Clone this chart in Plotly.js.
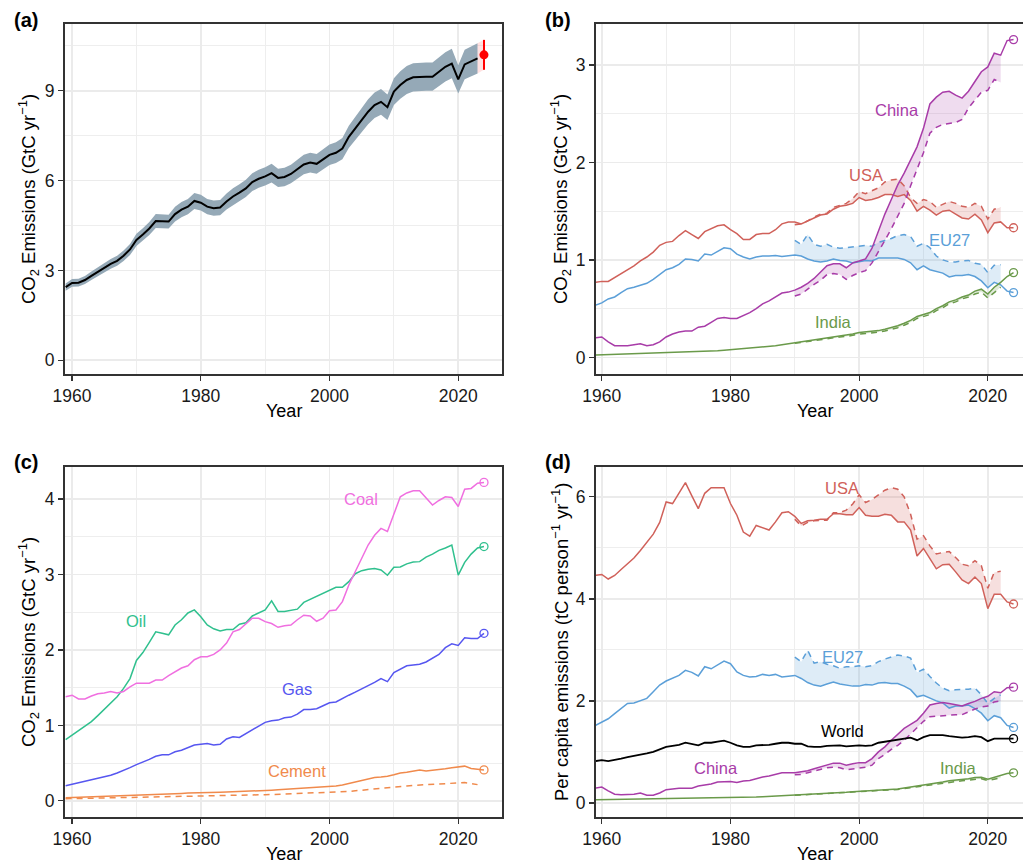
<!DOCTYPE html>
<html><head><meta charset="utf-8">
<script src="https://cdn.plot.ly/plotly-3.0.1.min.js"></script>
<style>html,body{margin:0;padding:0;background:#fff;} #chart{width:1023px;height:864px;}</style>
</head><body><div id="chart"></div>
<script>
// ---------------- DATA ----------------
const years = [1959,1960,1961,1962,1963,1964,1965,1966,1967,1968,
 1969,1970,1971,1972,1973,1974,1975,1976,1977,1978,
 1979,1980,1981,1982,1983,1984,1985,1986,1987,1988,
 1989,1990,1991,1992,1993,1994,1995,1996,1997,1998,
 1999,2000,2001,2002,2003,2004,2005,2006,2007,2008,
 2009,2010,2011,2012,2013,2014,2015,2016,2017,2018,
 2019,2020,2021,2022,2023];
const consYears = [1990,1991,1992,1993,1994,1995,1996,1997,1998,1999,
 2000,2001,2002,2003,2004,2005,2006,2007,2008,2009,
 2010,2011,2012,2013,2014,2015,2016,2017,2018,2019,
 2020,2021,2022];
const projYear = 2024;

// (a) global fossil CO2 emissions, GtC/yr
const worldTotal = [2.44,2.58,2.59,2.68,2.82,2.96,3.08,3.22,3.32,3.49,
 3.70,4.02,4.20,4.40,4.65,4.63,4.63,4.88,5.03,5.13,
 5.32,5.26,5.13,5.08,5.10,5.30,5.47,5.60,5.74,5.95,
 6.06,6.14,6.25,6.09,6.12,6.22,6.38,6.54,6.60,6.56,
 6.71,6.86,6.93,7.07,7.46,7.74,8.02,8.30,8.52,8.63,
 8.45,8.97,9.19,9.36,9.45,9.47,9.47,9.47,9.63,9.80,
 9.91,9.38,9.88,9.97,10.08];
const worldUncertainty = 0.05;          // +/- relative (1 sigma)
const worldProj = 10.2, worldProjLow = 9.7, worldProjHigh = 10.7;

// (b) territorial emissions by country (GtC/yr)
const usaTerr = [0.77,0.78,0.78,0.82,0.86,0.90,0.94,0.99,1.03,1.08,
 1.15,1.18,1.19,1.25,1.30,1.26,1.22,1.29,1.32,1.35,
 1.36,1.31,1.27,1.21,1.21,1.26,1.27,1.27,1.31,1.37,
 1.39,1.39,1.37,1.40,1.43,1.46,1.47,1.52,1.55,1.56,
 1.58,1.64,1.61,1.62,1.64,1.67,1.67,1.65,1.67,1.61,
 1.50,1.55,1.51,1.46,1.50,1.51,1.47,1.43,1.42,1.47,
 1.41,1.28,1.38,1.39,1.33];
const chinaTerr = [0.20,0.21,0.16,0.12,0.12,0.12,0.13,0.14,0.12,0.13,
 0.16,0.21,0.24,0.26,0.27,0.27,0.31,0.32,0.36,0.40,
 0.41,0.40,0.40,0.43,0.46,0.50,0.55,0.58,0.62,0.66,
 0.67,0.69,0.72,0.76,0.81,0.87,0.94,0.96,0.96,0.92,
 0.97,0.99,1.01,1.12,1.30,1.47,1.62,1.77,1.89,2.02,
 2.16,2.35,2.60,2.67,2.72,2.73,2.69,2.66,2.73,2.83,
 2.93,2.98,3.12,3.10,3.25];
const eu27Terr = [0.535,0.56,0.60,0.62,0.665,0.705,0.72,0.74,0.76,0.80,
 0.85,0.90,0.92,0.955,1.01,1.005,0.99,1.06,1.05,1.09,
 1.125,1.115,1.06,1.03,1.01,1.03,1.04,1.04,1.045,1.035,
 1.04,1.05,1.04,1.01,0.99,0.98,0.99,1.01,0.995,0.99,
 0.97,0.98,0.995,0.99,1.02,1.02,1.02,1.02,1.005,0.97,
 0.90,0.94,0.90,0.885,0.865,0.825,0.84,0.84,0.85,0.83,
 0.785,0.715,0.77,0.745,0.68];
const indiaTerr = [0.025,0.027,0.029,0.031,0.033,0.034,0.036,0.038,0.039,0.041,
 0.043,0.045,0.047,0.049,0.051,0.054,0.058,0.062,0.066,0.068,
 0.073,0.078,0.083,0.088,0.093,0.098,0.105,0.112,0.120,0.130,
 0.140,0.150,0.160,0.170,0.175,0.185,0.195,0.210,0.220,0.225,
 0.240,0.255,0.260,0.265,0.275,0.290,0.305,0.325,0.350,0.380,
 0.420,0.440,0.460,0.500,0.530,0.570,0.590,0.620,0.640,0.680,
 0.700,0.650,0.720,0.770,0.830];
// (b) consumption-based emissions 1990-2022
const usaCons = [1.36,1.37,1.40,1.44,1.47,1.48,1.54,1.56,1.58,1.63,
 1.70,1.68,1.71,1.74,1.80,1.82,1.83,1.76,1.64,1.58,
 1.62,1.60,1.54,1.57,1.60,1.58,1.55,1.54,1.58,1.55,
 1.42,1.52,1.54];
const chinaCons = [0.63,0.65,0.70,0.75,0.79,0.85,0.86,0.85,0.80,0.84,
 0.87,0.89,0.97,1.08,1.20,1.32,1.45,1.58,1.76,1.93,
 2.10,2.30,2.36,2.39,2.40,2.41,2.44,2.56,2.64,2.72,
 2.74,2.85,2.82];
const eu27Cons = [1.20,1.16,1.26,1.16,1.14,1.16,1.13,1.12,1.125,1.135,
 1.14,1.15,1.14,1.18,1.20,1.22,1.25,1.26,1.24,1.14,
 1.17,1.125,1.04,1.00,0.98,0.98,0.99,0.995,0.965,0.955,
 0.87,0.945,0.95];
const indiaCons = [0.145,0.155,0.165,0.168,0.178,0.188,0.20,0.21,0.215,0.228,
 0.24,0.245,0.25,0.26,0.272,0.285,0.305,0.33,0.36,0.40,
 0.42,0.44,0.48,0.51,0.55,0.57,0.60,0.62,0.65,0.67,
 0.61,0.67,0.72];
const countryProj = {USA: 1.33, China: 3.26, EU27: 0.665, India: 0.87};

// (c) emissions by fuel (GtC/yr)
const coal = [1.38,1.40,1.35,1.35,1.39,1.42,1.43,1.45,1.43,1.45,
 1.51,1.56,1.56,1.56,1.60,1.60,1.66,1.71,1.76,1.79,
 1.87,1.91,1.91,1.94,2.00,2.09,2.24,2.27,2.34,2.42,
 2.42,2.375,2.35,2.30,2.32,2.33,2.40,2.46,2.45,2.38,
 2.42,2.52,2.53,2.64,2.86,3.04,3.21,3.39,3.52,3.61,
 3.57,3.79,4.03,4.08,4.11,4.11,4.01,3.92,3.98,4.03,
 4.02,3.90,4.13,4.14,4.21];
const oil = [0.81,0.87,0.92,0.985,1.05,1.13,1.21,1.29,1.38,1.49,
 1.62,1.86,1.965,2.10,2.24,2.22,2.20,2.33,2.40,2.49,
 2.53,2.44,2.33,2.28,2.25,2.27,2.27,2.34,2.36,2.45,
 2.49,2.53,2.65,2.51,2.51,2.52,2.54,2.63,2.67,2.71,
 2.76,2.795,2.83,2.83,2.905,3.01,3.05,3.07,3.08,3.06,
 2.99,3.095,3.10,3.14,3.165,3.17,3.23,3.27,3.32,3.35,
 3.39,2.99,3.16,3.27,3.35];
const gas = [0.20,0.22,0.23,0.25,0.27,0.29,0.32,0.34,0.37,0.40,
 0.44,0.48,0.51,0.55,0.59,0.61,0.61,0.65,0.67,0.70,
 0.74,0.75,0.76,0.74,0.75,0.82,0.85,0.84,0.89,0.94,
 0.99,1.04,1.06,1.07,1.10,1.11,1.15,1.21,1.21,1.22,
 1.26,1.30,1.31,1.36,1.40,1.44,1.48,1.52,1.57,1.62,
 1.58,1.70,1.75,1.79,1.80,1.81,1.84,1.89,1.94,2.03,
 2.08,2.06,2.16,2.15,2.15];
const cement = [0.042,0.045,0.046,0.048,0.051,0.055,0.057,0.060,0.062,0.066,
 0.070,0.074,0.078,0.083,0.088,0.088,0.090,0.094,0.099,0.104,
 0.108,0.110,0.110,0.111,0.115,0.118,0.120,0.123,0.128,0.133,
 0.136,0.138,0.141,0.146,0.152,0.160,0.166,0.170,0.174,0.175,
 0.180,0.188,0.197,0.210,0.232,0.250,0.270,0.295,0.310,0.315,
 0.325,0.345,0.370,0.380,0.400,0.410,0.395,0.405,0.410,0.425,
 0.440,0.445,0.460,0.430,0.420];
const cementCarbonation = [0.028,0.030,0.031,0.033,0.035,0.037,0.039,0.041,0.043,0.045,
 0.047,0.050,0.052,0.055,0.058,0.060,0.061,0.063,0.065,0.067,
 0.068,0.069,0.070,0.070,0.071,0.072,0.073,0.074,0.076,0.078,
 0.080,0.082,0.083,0.086,0.089,0.092,0.095,0.098,0.100,0.102,
 0.105,0.108,0.112,0.118,0.125,0.133,0.142,0.152,0.160,0.166,
 0.172,0.180,0.190,0.197,0.205,0.210,0.210,0.215,0.220,0.228,
 0.236,0.240,0.242,0.230,0.215];
const fuelProj = {Coal: 4.22, Oil: 3.37, Gas: 2.22, Cement: 0.41};

// (d) per capita emissions (tC/person/yr)
const usaPc = [4.46,4.48,4.39,4.46,4.575,4.69,4.80,4.95,5.10,5.27,
 5.50,5.90,5.87,6.08,6.28,6.02,5.77,6.07,6.18,6.18,
 6.18,5.87,5.64,5.31,5.23,5.44,5.40,5.35,5.51,5.69,
 5.71,5.62,5.48,5.53,5.54,5.56,5.56,5.67,5.67,5.65,
 5.65,5.79,5.64,5.62,5.62,5.66,5.64,5.51,5.51,5.35,
 4.84,4.99,4.79,4.59,4.67,4.68,4.53,4.37,4.30,4.43,
 4.30,3.81,4.09,4.09,3.94];
const eu27Pc = [1.52,1.59,1.65,1.75,1.85,1.95,1.96,2.00,2.05,2.18,
 2.31,2.39,2.44,2.50,2.60,2.56,2.49,2.67,2.63,2.70,
 2.78,2.73,2.57,2.50,2.47,2.48,2.52,2.50,2.52,2.47,
 2.49,2.50,2.44,2.36,2.31,2.29,2.33,2.37,2.33,2.31,
 2.29,2.29,2.32,2.31,2.35,2.36,2.34,2.34,2.29,2.22,
 2.08,2.11,2.05,2.00,1.96,1.86,1.90,1.90,1.92,1.85,
 1.76,1.61,1.71,1.67,1.52];
const worldPc = [0.82,0.84,0.82,0.84,0.87,0.90,0.92,0.95,0.97,1.00,
 1.05,1.10,1.12,1.14,1.18,1.15,1.13,1.18,1.18,1.20,
 1.22,1.18,1.13,1.10,1.10,1.13,1.13,1.14,1.16,1.18,
 1.18,1.16,1.16,1.11,1.10,1.10,1.12,1.13,1.13,1.11,
 1.12,1.13,1.12,1.13,1.18,1.20,1.22,1.24,1.26,1.28,
 1.23,1.29,1.33,1.33,1.33,1.31,1.29,1.28,1.29,1.31,
 1.29,1.21,1.26,1.26,1.26];
const chinaPc = [0.29,0.31,0.235,0.17,0.16,0.16,0.17,0.195,0.15,0.15,
 0.195,0.26,0.28,0.29,0.29,0.29,0.33,0.35,0.37,0.41,
 0.42,0.42,0.40,0.43,0.44,0.48,0.51,0.53,0.56,0.59,
 0.59,0.59,0.61,0.63,0.67,0.71,0.75,0.78,0.78,0.74,
 0.77,0.79,0.79,0.87,1.00,1.10,1.23,1.35,1.46,1.54,
 1.62,1.76,1.92,1.95,1.97,1.95,1.92,1.90,1.95,1.99,
 2.05,2.09,2.18,2.16,2.26];
const indiaPc = [0.060,0.062,0.064,0.066,0.067,0.068,0.070,0.071,0.072,0.074,
 0.075,0.077,0.078,0.080,0.081,0.083,0.086,0.088,0.090,0.092,
 0.095,0.098,0.102,0.106,0.110,0.114,0.120,0.126,0.132,0.140,
 0.148,0.155,0.162,0.170,0.175,0.182,0.190,0.198,0.205,0.210,
 0.220,0.228,0.232,0.236,0.242,0.250,0.262,0.275,0.292,0.310,
 0.338,0.355,0.370,0.395,0.410,0.435,0.445,0.460,0.475,0.500,
 0.505,0.465,0.500,0.535,0.575];
const usaPcCons = [5.56,5.43,5.50,5.53,5.54,5.54,5.69,5.69,5.74,5.86,
 6.04,5.89,5.95,6.04,6.13,6.18,6.15,6.00,5.66,5.17,
 5.24,5.04,4.88,4.91,4.93,4.81,4.68,4.65,4.75,4.65,
 4.21,4.52,4.54];
const eu27PcCons = [2.86,2.77,2.99,2.74,2.77,2.72,2.69,2.64,2.67,2.67,
 2.69,2.67,2.69,2.77,2.82,2.86,2.90,2.88,2.84,2.56,
 2.62,2.48,2.35,2.25,2.20,2.22,2.22,2.23,2.25,2.12,
 1.95,2.05,2.12];
const chinaPcCons = [0.55,0.56,0.59,0.62,0.65,0.69,0.70,0.69,0.65,0.67,
 0.69,0.70,0.74,0.87,0.95,1.05,1.13,1.23,1.35,1.47,
 1.60,1.69,1.70,1.72,1.73,1.73,1.73,1.79,1.84,1.88,
 1.90,1.98,2.00];
const indiaPcCons = [0.150,0.157,0.163,0.167,0.174,0.182,0.190,0.196,0.200,0.210,
 0.218,0.222,0.226,0.232,0.240,0.252,0.265,0.280,0.298,0.318,
 0.335,0.350,0.372,0.385,0.410,0.420,0.435,0.448,0.465,0.475,
 0.440,0.458,0.490];
const pcProj = {USA: 3.90, EU27: 1.48, China: 2.27, World: 1.26, India: 0.59};

// ---------------- STYLE ----------------
const FONT = 'Liberation Sans, Arial, Helvetica, sans-serif';
const C = {
  usa: '#d0615a', china: '#a83ca8', eu: '#5b9fd8', india: '#6a9a4a', world: '#000000',
  coal: '#f06fe0', oil: '#30c08e', gas: '#5656f0', cement: '#f08a4c',
  band: '#95a9b7', red: '#ff0000'
};
const FILL = {
  usa: 'rgba(208,97,90,0.2)', china: 'rgba(168,60,168,0.18)',
  eu: 'rgba(91,159,216,0.2)', india: 'rgba(106,154,74,0.2)'
};
const DASH = '6px,5px';
const W = 1023, H = 864;
const px = v => v / W, py = v => 1 - v / H;

const traces = [];
function line(ax, x, y, color, width, dash) {
  traces.push({type: 'scatter', mode: 'lines', x: x, y: y, xaxis: 'x' + ax, yaxis: 'y' + ax,
    line: {color: color, width: width, dash: dash || 'solid'}, hoverinfo: 'skip', showlegend: false});
}
function ribbon(ax, x, lo, hi, fill) {
  traces.push({type: 'scatter', mode: 'lines', x: x.concat(x.slice().reverse()),
    y: hi.concat(lo.slice().reverse()), fill: 'toself', fillcolor: fill,
    line: {width: 0}, xaxis: 'x' + ax, yaxis: 'y' + ax, hoverinfo: 'skip', showlegend: false});
}
function circle(ax, y, color) {
  traces.push({type: 'scatter', mode: 'markers', x: [projYear], y: [y], xaxis: 'x' + ax, yaxis: 'y' + ax,
    marker: {symbol: 'circle-open', size: 8, color: color, line: {color: color, width: 1.3}},
    hoverinfo: 'skip', showlegend: false});
}
const i1990 = years.indexOf(1990), i2022 = years.indexOf(2022);
const terrSlice = s => s.slice(i1990, i2022 + 1);

// ---- (a)
ribbon('', years, worldTotal.map(v => v * (1 - worldUncertainty)), worldTotal.map(v => v * (1 + worldUncertainty)), C.band);
const last = worldTotal[worldTotal.length - 1];
ribbon('', [years[years.length - 1], projYear],
  [last * (1 - worldUncertainty), worldProjLow], [last * (1 + worldUncertainty), worldProjHigh], 'rgba(255,90,90,0.18)');
line('', years, worldTotal, '#000', 2);
traces.push({type: 'scatter', mode: 'markers', x: [projYear], y: [worldProj], xaxis: 'x', yaxis: 'y',
  marker: {color: C.red, size: 9},
  error_y: {type: 'data', symmetric: false, array: [worldProjHigh - worldProj], arrayminus: [worldProj - worldProjLow],
    color: C.red, thickness: 2, width: 0}, hoverinfo: 'skip', showlegend: false});

// ---- (b) country totals
const bSeries = [
  ['USA', usaTerr, usaCons, C.usa, FILL.usa],
  ['EU27', eu27Terr, eu27Cons, C.eu, FILL.eu],
  ['India', indiaTerr, indiaCons, C.india, FILL.india],
  ['China', chinaTerr, chinaCons, C.china, FILL.china]
];
bSeries.forEach(s => ribbon('2', consYears, terrSlice(s[1]), s[2], s[4]));
bSeries.forEach(s => {
  line('2', consYears, s[2], s[3], 1.5, DASH);
  line('2', years.concat([projYear]), s[1].concat([countryProj[s[0]]]), s[3], 1.5);
  circle('2', countryProj[s[0]], s[3]);
});

// ---- (c) fuels
line('3', years, cementCarbonation, C.cement, 1.5, DASH);
[['Cement', cement, C.cement], ['Gas', gas, C.gas], ['Oil', oil, C.oil], ['Coal', coal, C.coal]].forEach(s => {
  line('3', years.concat([projYear]), s[1].concat([fuelProj[s[0]]]), s[2], 1.5);
  circle('3', fuelProj[s[0]], s[2]);
});

// ---- (d) per capita
const dSeries = [
  ['USA', usaPc, usaPcCons, C.usa, FILL.usa],
  ['EU27', eu27Pc, eu27PcCons, C.eu, FILL.eu],
  ['India', indiaPc, indiaPcCons, C.india, FILL.india],
  ['China', chinaPc, chinaPcCons, C.china, FILL.china]
];
dSeries.forEach(s => ribbon('4', consYears, terrSlice(s[1]), s[2], s[4]));
dSeries.forEach(s => {
  line('4', consYears, s[2], s[3], 1.5, DASH);
  line('4', years.concat([projYear]), s[1].concat([pcProj[s[0]]]), s[3], 1.5);
  circle('4', pcProj[s[0]], s[3]);
});
line('4', years.concat([projYear]), worldPc.concat([pcProj.World]), '#000', 1.8);
circle('4', pcProj.World, '#000');

// ---------------- LAYOUT ----------------
const tickFont = {family: FONT, size: 17.5, color: '#1a1a1a'};
function axis(domain, range, dtick, minorDtick, mirror) {
  return {domain: domain, range: range, dtick: dtick, tick0: 0, showline: true, mirror: mirror,
    linecolor: '#333', linewidth: 2, ticks: 'outside', ticklen: 5, tickcolor: '#333', tickwidth: 1.2,
    showgrid: true, gridcolor: '#ebebeb', gridwidth: 1.8, zeroline: false, tickfont: tickFont,
    fixedrange: true,
    minor: {dtick: minorDtick, showgrid: true, gridcolor: '#eeeeee', gridwidth: 1, ticks: ''}};
}
const xLeft = [px(65), px(502)], xRight = [px(596), 1];
const yTop = [py(374), py(24)], yBot = [py(816.7), py(467.3)];
const xRangeL = [1958.9, 2026.8], xRangeR = [1959.1, 2025.47];

const layout = {
  width: W, height: H, margin: {l: 0, r: 0, t: 0, b: 0}, paper_bgcolor: '#fff', plot_bgcolor: '#fff',
  font: {family: FONT, color: '#1a1a1a'}, showlegend: false,
  xaxis: Object.assign(axis(xLeft, xRangeL, 20, 10, true), {tick0: 1960, anchor: 'y'}),
  yaxis: Object.assign(axis(yTop, [-0.46, 11.23], 3, 1.5, true), {anchor: 'x'}),
  xaxis2: Object.assign(axis(xRight, xRangeR, 20, 10, true), {tick0: 1960, anchor: 'y2'}),
  yaxis2: Object.assign(axis(yTop, [-0.17, 3.42], 1, 0.5, false), {anchor: 'x2'}),
  xaxis3: Object.assign(axis(xLeft, xRangeL, 20, 10, true), {tick0: 1960, anchor: 'y3'}),
  yaxis3: Object.assign(axis(yBot, [-0.21, 4.42], 1, 0.5, true), {anchor: 'x3'}),
  xaxis4: Object.assign(axis(xRight, xRangeR, 20, 10, true), {tick0: 1960, anchor: 'y4'}),
  yaxis4: Object.assign(axis(yBot, [-0.27, 6.58], 2, 1, false), {anchor: 'x4'}),
  annotations: []
};
const ann = layout.annotations;
// panel letters
[['(a)', 12, 20], ['(b)', 543, 20], ['(c)', 12, 462], ['(d)', 543, 462]].forEach(p => ann.push({
  text: '<b>' + p[0] + '</b>', xref: 'paper', yref: 'paper', x: px(p[1]), y: py(p[2]),
  xanchor: 'left', yanchor: 'middle', showarrow: false, font: {family: FONT, size: 20, color: '#000'}}));
// axis titles
const co2Title = 'CO<sub>2</sub> Emissions (GtC yr<sup>−1</sup>)';
const pcTitle = 'Per capita emissions (tC person<sup>−1</sup> yr<sup>−1</sup>)';
[[co2Title, 28, 199], [co2Title, 560, 199], [co2Title, 28, 642], [pcTitle, 560, 642]].forEach(t => ann.push({
  text: t[0], xref: 'paper', yref: 'paper', x: px(t[1]), y: py(t[2]), textangle: -90,
  xanchor: 'center', yanchor: 'middle', showarrow: false, font: {family: FONT, size: 18.5, color: '#000'}}));
[[283.5, 411], [815, 411], [283.5, 854], [815, 854]].forEach(t => ann.push({
  text: 'Year', xref: 'paper', yref: 'paper', x: px(t[0]), y: py(t[1]),
  xanchor: 'center', yanchor: 'middle', showarrow: false, font: {family: FONT, size: 18, color: '#000'}}));
// series labels
function label(ax, text, x, y, color) {
  ann.push({text: text, xref: 'x' + ax, yref: 'y' + ax, x: x, y: y, xanchor: 'center', yanchor: 'middle',
    showarrow: false, font: {family: FONT, size: 16.5, color: color}});
}
label('2', 'China', 2005.9, 2.54, C.china);
label('2', 'USA', 2001.0, 1.87, C.usa);
label('2', 'EU27', 2014.0, 1.20, C.eu);
label('2', 'India', 1996.0, 0.36, C.india);
label('3', 'Coal', 2004.9, 4.0, C.coal);
label('3', 'Oil', 1969.9, 2.38, C.oil);
label('3', 'Gas', 1994.9, 1.48, C.gas);
label('3', 'Cement', 1994.9, 0.39, C.cement);
label('4', 'USA', 1997.4, 6.18, C.usa);
label('4', 'EU27', 1997.4, 2.86, C.eu);
label('4', 'World', 1997.4, 1.41, '#000');
label('4', 'China', 1977.7, 0.69, C.china);
label('4', 'India', 2015.4, 0.69, C.india);

Plotly.newPlot('chart', traces, layout, {displayModeBar: false, staticPlot: true});
</script>
</body></html>
